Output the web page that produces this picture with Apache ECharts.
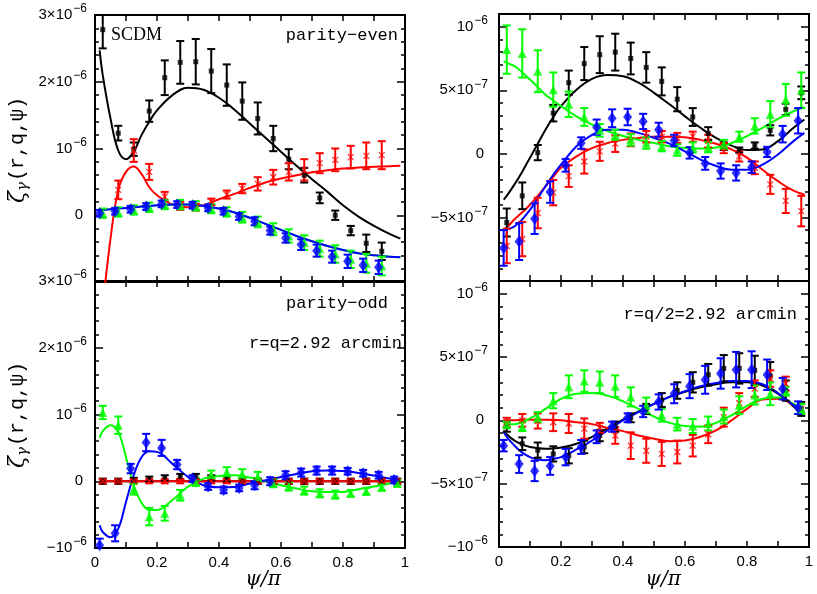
<!DOCTYPE html>
<html>
<head>
<meta charset="utf-8">
<title>zeta_gamma SCDM</title>
<script src="https://cdn.jsdelivr.net/npm/echarts@6/dist/echarts.min.js"></script>
<style>
  html, body { margin: 0; padding: 0; background: #fff; }
  #main { width: 817px; height: 594px; }
</style>
</head>
<body>
<div id="main"></div>
<script>
// psi/pi of the measured bins
var psiPts = [0.025, 0.075, 0.125, 0.175, 0.225, 0.275, 0.325, 0.375, 0.425, 0.475,
              0.525, 0.575, 0.625, 0.675, 0.725, 0.775, 0.825, 0.875, 0.925, 0.975];
// psi/pi where the model curves are read
var psiModel = [0.015, 0.025, 0.05, 0.075, 0.1, 0.125, 0.15, 0.175, 0.2, 0.25, 0.3, 0.35, 0.4,
                0.45, 0.5, 0.55, 0.6, 0.65, 0.7, 0.75, 0.8, 0.85, 0.9, 0.95, 0.985];

// tick labels, "|" splits mantissa and exponent
var leftTickValues = [-1, 0, 1, 2, 3];          // units of 1e-6
var leftTickLabels = ['−10|−6', '0', '10|−6', '2×10|−6', '3×10|−6'];
var rightTickValues = [-10, -5, 0, 5, 10];      // units of 1e-7
var rightTickLabels = ['−10|−6', '−5×10|−7', '0', '5×10|−7', '10|−6'];
var xTickValues = [0, 0.2, 0.4, 0.6, 0.8, 1];
var xTickLabels = ['0', '0.2', '0.4', '0.6', '0.8', '1'];

// ---- top left: parity-even, r=q (1e-6)
var tlBlack    = [2.78, 1.23, 0.99, 1.56, 2.06, 2.29, 2.30, 2.16, 1.95, 1.71, 1.45, 1.15, 0.84, 0.60, 0.26, 0.00, -0.23, -0.42, -0.54, null];
var tlBlackErr = [0.28, 0.11, 0.10, 0.16, 0.26, 0.32, 0.34, 0.33, 0.31, 0.28, 0.24, 0.19, 0.15, 0.11, 0.08, 0.07, 0.07, 0.13, 0.13, null];
var tlRed      = [null, 0.38, 0.97, 0.65, 0.28, 0.14, 0.12, 0.20, 0.31, 0.40, 0.47, 0.57, 0.65, 0.68, 0.78, 0.83, 0.87, 0.89, 0.90, null];
var tlRedErr   = [null, 0.14, 0.17, 0.12, 0.07, 0.06, 0.05, 0.05, 0.06, 0.07, 0.10, 0.11, 0.13, 0.16, 0.15, 0.17, 0.17, 0.20, 0.21, null];
var tlGreen    = [0.03, 0.05, 0.08, 0.12, 0.16, 0.16, 0.14, 0.10, 0.05, -0.03, -0.10, -0.21, -0.31, -0.41, -0.50, -0.58, -0.66, -0.72, -0.76, null];
var tlGreenErr = [0.07, 0.07, 0.07, 0.07, 0.07, 0.07, 0.07, 0.07, 0.07, 0.08, 0.08, 0.09, 0.10, 0.11, 0.12, 0.13, 0.13, 0.14, 0.14, null];
var tlBlue     = [0.03, 0.06, 0.09, 0.13, 0.17, 0.16, 0.15, 0.11, 0.06, -0.02, -0.09, -0.23, -0.34, -0.44, -0.53, -0.62, -0.69, -0.75, -0.78, null];
var tlBlueErr  = [0.05, 0.05, 0.05, 0.05, 0.05, 0.05, 0.05, 0.05, 0.05, 0.05, 0.06, 0.06, 0.07, 0.08, 0.09, 0.09, 0.10, 0.10, 0.10, null];
var tlBlackFit = [2.47, 2.10, 1.45, 0.97, 0.84, 0.95, 1.20, 1.40, 1.57, 1.80, 1.91, 1.88, 1.76, 1.58, 1.37, 1.16, 0.95, 0.74, 0.54, 0.35, 0.15, -0.02, -0.16, -0.28, -0.35];
var tlRedFit   = [-1.70, -1.35, -0.35, 0.38, 0.65, 0.73, 0.62, 0.42, 0.30, 0.16, 0.12, 0.15, 0.24, 0.32, 0.41, 0.49, 0.55, 0.60, 0.645, 0.675, 0.70, 0.715, 0.725, 0.735, 0.74];
var tlGreenFit = [0.08, 0.08, 0.09, 0.10, 0.11, 0.12, 0.13, 0.14, 0.15, 0.16, 0.16, 0.14, 0.10, 0.04, -0.04, -0.13, -0.22, -0.31, -0.39, -0.46, -0.52, -0.57, -0.60, -0.62, -0.63];
var tlBlueFit  = [0.08, 0.08, 0.09, 0.10, 0.11, 0.12, 0.13, 0.14, 0.15, 0.16, 0.16, 0.14, 0.10, 0.04, -0.04, -0.13, -0.22, -0.31, -0.39, -0.46, -0.52, -0.57, -0.60, -0.62, -0.63];

// ---- top right: parity-even, r=q/2 (1e-7)
var trBlack    = [-5.4, -3.3, 0.1, 3.2, 5.6, 7.1, 7.8, 8.0, 7.5, 6.8, 5.7, 4.3, 2.9, 1.6, 0.6, 0.3, 0.65, 1.85, 3.5, 4.8];
var trBlackErr = [1.1, 1.05, 0.6, 0.65, 0.95, 1.3, 1.45, 1.45, 1.25, 1.2, 1.1, 0.95, 0.7, 0.5, 0.3, 0.2, 0.25, 0.4, 0.45, 0.5];
var trRed      = [-7.25, -6.7, -4.65, -3.05, -1.75, -0.6, 0.2, 0.8, 1.1, 1.35, 1.35, 1.25, 1.35, 1.0, 0.45, -0.2, -1.1, -2.4, -3.7, -4.5];
var trRedErr   = [1.35, 1.35, 1.2, 1.0, 0.85, 0.95, 0.75, 0.65, 0.5, 0.45, 0.45, 0.4, 0.4, 0.5, 0.4, 0.4, 0.5, 0.75, 0.95, 1.2];
var trGreen    = [8.2, 7.9, 6.5, 5.05, 3.9, 2.9, 1.85, 1.5, 1.1, 0.85, 0.6, 0.3, 0.5, 0.52, 0.75, 1.35, 2.2, 3.1, 4.25, 5.0];
var trGreenErr = [1.9, 1.9, 1.65, 1.35, 1.0, 0.7, 0.5, 0.4, 0.45, 0.45, 0.4, 0.45, 0.4, 0.4, 0.35, 0.4, 0.6, 1.05, 1.25, 1.4];
var trBlue     = [-7.4, -6.9, -5.1, -3.0, -0.9, 0.85, 2.1, 2.8, 2.9, 2.55, 1.9, 1.05, 0.08, -0.75, -1.35, -1.5, -1.05, 0.15, 1.55, 2.6];
var trBlueErr  = [1.4, 1.45, 1.2, 0.85, 0.5, 0.45, 0.6, 0.7, 0.65, 0.6, 0.55, 0.45, 0.45, 0.5, 0.6, 0.6, 0.45, 0.4, 0.65, 1.0];
var trBlackFit = [-3.6, -3.3, -2.4, -1.4, -0.3, 0.8, 1.9, 2.9, 3.75, 5.05, 5.9, 6.2, 6.1, 5.6, 4.8, 3.9, 2.95, 2.05, 1.25, 0.65, 0.3, 0.35, 1.0, 2.05, 2.7];
var trRedFit   = [-5.95, -5.8, -5.15, -4.6, -4.0, -3.3, -2.55, -1.8, -1.1, -0.2, 0.45, 0.85, 1.1, 1.25, 1.35, 1.35, 1.3, 1.1, 0.8, 0.35, -0.3, -1.25, -2.15, -2.9, -3.2];
var trGreenFit = [7.3, 7.15, 6.9, 6.4, 5.85, 5.25, 4.65, 4.2, 3.75, 2.95, 2.3, 1.8, 1.4, 1.1, 0.85, 0.6, 0.47, 0.42, 0.5, 0.85, 1.4, 2.05, 2.75, 3.35, 3.7];
var trBlueFit  = [-6.0, -5.95, -5.7, -5.15, -4.4, -3.5, -2.55, -1.65, -0.85, 0.6, 1.5, 1.9, 1.9, 1.65, 1.25, 0.8, 0.2, -0.45, -0.95, -1.25, -1.25, -0.85, -0.05, 1.0, 1.65];

// ---- bottom left: parity-odd, r=q (1e-6)
var blBlack    = [0, 0, 0.01, 0.03, 0.05, 0.07, 0.07, 0.05, 0.03, 0.01, 0, 0, 0, 0, 0, 0, 0, 0, 0, 0];
var blBlackErr = [0.04, 0.04, 0.04, 0.04, 0.04, 0.04, 0.04, 0.04, 0.04, 0.04, 0.04, 0.04, 0.04, 0.04, 0.04, 0.04, 0.04, 0.04, 0.04, 0.04];
var blRed      = [0, 0, 0, 0, 0, 0, 0, 0, 0, 0, 0, 0, 0, 0, 0, 0, 0, 0, 0, 0];
var blRedErr   = [0.03, 0.03, 0.03, 0.03, 0.03, 0.03, 0.03, 0.03, 0.03, 0.03, 0.03, 0.03, 0.03, 0.03, 0.03, 0.03, 0.03, 0.03, 0.03, 0.03];
var blGreen    = [1.03, 0.84, -0.12, -0.53, -0.48, -0.21, -0.01, 0.10, 0.14, 0.11, 0.07, -0.03, -0.08, -0.14, -0.18, -0.20, -0.18, -0.15, -0.09, -0.03];
var blGreenErr = [0.10, 0.13, 0.08, 0.13, 0.11, 0.08, 0.06, 0.06, 0.07, 0.07, 0.07, 0.06, 0.06, 0.06, 0.06, 0.06, 0.05, 0.05, 0.05, 0.05];
var blBlue     = [-0.96, -0.78, 0.19, 0.58, 0.50, 0.25, 0.04, -0.08, -0.13, -0.10, -0.06, 0.00, 0.09, 0.13, 0.16, 0.16, 0.15, 0.12, 0.09, 0.02];
var blBlueErr  = [0.10, 0.12, 0.07, 0.13, 0.12, 0.07, 0.05, 0.05, 0.05, 0.05, 0.06, 0.06, 0.06, 0.06, 0.06, 0.06, 0.05, 0.05, 0.05, 0.05];
var blBlackFit = [0, 0, 0, 0, 0, 0, 0, 0, 0, 0, 0, 0, 0, 0, 0, 0, 0, 0, 0, 0, 0, 0, 0, 0, 0];
var blRedFit   = [0, 0, 0, 0, 0, 0, 0, 0, 0, 0, 0, 0, 0, 0, 0, 0, 0, 0, 0, 0, 0, 0, 0, 0, 0];
var blGreenFit = [0.65, 0.75, 0.84, 0.74, 0.36, -0.06, -0.32, -0.43, -0.43, -0.28, -0.08, 0.04, 0.08, 0.09, 0.055, 0.0, -0.06, -0.11, -0.15, -0.16, -0.16, -0.12, -0.08, -0.035, -0.01];
var blBlueFit  = [-0.66, -0.76, -0.84, -0.71, -0.31, 0.09, 0.36, 0.45, 0.44, 0.26, 0.065, -0.06, -0.09, -0.085, -0.035, 0.015, 0.065, 0.11, 0.15, 0.16, 0.155, 0.125, 0.085, 0.04, 0.015];

// ---- bottom right: parity-odd, r=q/2 (1e-7)
var brBlack    = [-0.5, -1.85, -2.35, -2.65, -2.8, -2.1, -1.2, -0.5, 0.2, 0.9, 1.6, 2.35, 3.0, 3.6, 4.1, 4.1, 3.95, 3.5, 2.35, 0.9];
var brBlackErr = [0.4, 0.5, 0.6, 0.6, 0.6, 0.5, 0.45, 0.4, 0.35, 0.4, 0.55, 0.65, 0.8, 0.85, 1.05, 1.2, 1.15, 1.1, 0.8, 0.55];
var brRed      = [-0.15, 0.0, -0.05, -0.15, -0.25, -0.65, -0.6, -1.2, -2.0, -2.4, -2.65, -2.5, -2.0, -1.1, 0.25, 1.35, 2.5, 3.3, 2.9, 0.9];
var brRedErr   = [0.35, 0.5, 0.6, 0.7, 0.75, 0.8, 0.4, 0.65, 1.05, 0.95, 0.95, 0.9, 0.85, 0.7, 0.75, 0.8, 0.65, 0.65, 0.55, 0.4];
var brGreen    = [-0.35, -0.5, 0.25, 1.55, 2.65, 3.1, 3.0, 2.7, 1.85, 1.2, 0.4, -0.3, -0.45, -0.25, 0.3, 1.2, 2.0, 2.1, 2.3, 0.9];
var brGreenErr = [0.25, 0.35, 0.4, 0.6, 0.9, 0.85, 0.85, 0.85, 0.75, 0.6, 0.5, 0.5, 0.55, 0.55, 0.55, 0.7, 0.75, 0.9, 0.35, 0.4];
var brBlue     = [-2.0, -3.45, -4.0, -3.6, -2.9, -2.1, -1.3, -0.5, 0.2, 0.7, 1.45, 2.1, 2.7, 3.2, 3.7, 4.0, 4.0, 3.6, 2.5, 1.0];
var brBlueErr  = [0.45, 0.7, 0.8, 0.7, 0.65, 0.55, 0.5, 0.4, 0.35, 0.45, 0.6, 0.75, 0.95, 1.1, 1.2, 1.4, 1.45, 1.2, 0.85, 0.5];
var brBlackFit = [-0.8, -1.1, -1.6, -1.9, -2.1, -2.2, -2.25, -2.22, -2.15, -1.85, -1.3, -0.65, 0.05, 0.7, 1.3, 1.85, 2.25, 2.6, 2.85, 3.0, 3.0, 2.75, 2.1, 1.1, 0.4];
var brRedFit   = [-0.05, 0.0, 0.0, 0.05, 0.05, 0.05, 0.05, 0.03, 0.0, -0.15, -0.3, -0.6, -0.85, -1.2, -1.45, -1.65, -1.6, -1.3, -0.8, 0.0, 0.9, 1.65, 1.7, 1.2, 0.5];
var brGreenFit = [-0.25, -0.3, -0.3, -0.15, 0.15, 0.5, 0.9, 1.3, 1.7, 2.1, 2.15, 1.95, 1.5, 0.9, 0.3, -0.2, -0.45, -0.5, -0.2, 0.4, 1.15, 1.7, 1.8, 1.3, 0.65];
var brBlueFit  = [-0.9, -1.3, -2.0, -2.55, -2.9, -3.1, -3.15, -3.05, -2.9, -2.3, -1.6, -0.8, 0.0, 0.65, 1.3, 1.85, 2.3, 2.7, 2.95, 3.1, 3.1, 2.85, 2.15, 1.2, 0.5];

var COLORS = {black: '#000000', red: '#ff0000', green: '#00ff00', blue: '#0000ff'};
var ORDER = ['black', 'red', 'green', 'blue'];
var BLUE_SHIFT = -0.01;   // blue points sit a little left of the bin centre

var panels = [
  { grid: {left: 95, top: 15, width: 310, height: 267}, unit: 'left', hide: [-1], xLabels: false,
    pts: {black: tlBlack, red: tlRed, green: tlGreen, blue: tlBlue},
    err: {black: tlBlackErr, red: tlRedErr, green: tlGreenErr, blue: tlBlueErr},
    fit: {black: tlBlackFit, red: tlRedFit, green: tlGreenFit, blue: tlBlueFit} },
  { grid: {left: 499, top: 14, width: 310, height: 267}, unit: 'right', hide: [-10], xLabels: false,
    pts: {black: trBlack, red: trRed, green: trGreen, blue: trBlue},
    err: {black: trBlackErr, red: trRedErr, green: trGreenErr, blue: trBlueErr},
    fit: {black: trBlackFit, red: trRedFit, green: trGreenFit, blue: trBlueFit} },
  { grid: {left: 95, top: 281, width: 310, height: 267}, unit: 'left', hide: [], xLabels: true,
    pts: {black: blBlack, red: blRed, green: blGreen, blue: blBlue},
    err: {black: blBlackErr, red: blRedErr, green: blGreenErr, blue: blBlueErr},
    fit: {black: blBlackFit, red: blRedFit, green: blGreenFit, blue: blBlueFit} },
  { grid: {left: 499, top: 281, width: 310, height: 266}, unit: 'right', hide: [], xLabels: true,
    pts: {black: brBlack, red: brRed, green: brGreen, blue: brBlue},
    err: {black: brBlackErr, red: brRedErr, green: brGreenErr, blue: brBlueErr},
    fit: {black: brBlackFit, red: brRedFit, green: brGreenFit, blue: brBlueFit} }
];

var MARKERS = {
  black: {symbol: 'rect', size: 5, style: {color: COLORS.black}},
  red: {symbol: 'path://M0,0L10,10M10,0L0,10', size: 6,
        style: {color: 'rgba(0,0,0,0)', borderColor: COLORS.red, borderWidth: 1.2}},
  green: {symbol: 'triangle', size: 9, style: {color: COLORS.green}},
  blue: {symbol: 'diamond', size: [9, 12], style: {color: COLORS.blue}}
};

function tick(len) {
  return {show: true, inside: true, length: len, lineStyle: {color: '#000', width: 1.5}};
}

function lookup(values, labels, hide, rich) {
  return function (v) {
    for (var i = 0; i < values.length; i++) {
      if (Math.abs(v - values[i]) < 1e-6) {
        if (hide.indexOf(values[i]) >= 0) return '';
        if (!rich) return labels[i];
        var parts = labels[i].split('|');
        return parts.length > 1 ? '{m|' + parts[0] + '}{e|' + parts[1] + '}' : '{z|' + parts[0] + '}';
      }
    }
    return '';
  };
}

var labelRich = {
  m: {fontSize: 15, fontFamily: 'Liberation Sans', color: '#000'},
  z: {fontSize: 15, fontFamily: 'Liberation Sans', color: '#000', padding: [0, 4, 0, 0]},
  e: {fontSize: 12, fontFamily: 'Liberation Sans', color: '#000', padding: [0, 0, 12, 1]}
};

var grids = [], xAxes = [], yAxes = [], series = [];

panels.forEach(function (p, gi) {
  grids.push(Object.assign({show: true, borderColor: '#000', borderWidth: 2, backgroundColor: 'transparent'}, p.grid));

  var xb = {gridIndex: gi, type: 'value', min: 0, max: 1, interval: 0.1,
            axisLine: {show: false, onZero: false}, splitLine: {show: false}, axisTick: tick(6)};
  xAxes.push(Object.assign({}, xb, {position: 'bottom', axisLabel: {
    show: p.xLabels, margin: 7, color: '#000', fontSize: 15, fontFamily: 'Liberation Sans',
    formatter: lookup(xTickValues, xTickLabels, [], false)}}));
  xAxes.push(Object.assign({}, xb, {position: 'top', axisLabel: {show: false}}));

  var left = p.unit === 'left';
  var r = left ? {min: -1, max: 3, major: 1, minor: 0.2} : {min: -10, max: 11, major: 5, minor: 1};
  var yb = {gridIndex: gi, type: 'value', min: r.min, max: r.max,
            axisLine: {show: false, onZero: false}, splitLine: {show: false}};
  yAxes.push(Object.assign({}, yb, {position: 'left', interval: r.major, axisTick: tick(8), axisLabel: {
    margin: left ? 8 : 11, rich: labelRich,
    formatter: left ? lookup(leftTickValues, leftTickLabels, p.hide, true)
                    : lookup(rightTickValues, rightTickLabels, p.hide, true)}}));
  yAxes.push(Object.assign({}, yb, {position: 'left', interval: r.minor, axisTick: tick(4), axisLabel: {show: false}}));
  yAxes.push(Object.assign({}, yb, {position: 'right', interval: r.major, axisTick: tick(8), axisLabel: {show: false}}));
  yAxes.push(Object.assign({}, yb, {position: 'right', interval: r.minor, axisTick: tick(4), axisLabel: {show: false}}));

  var xi = gi * 2, yi = gi * 4;
  ORDER.forEach(function (c) {
    series.push({
      type: 'line', xAxisIndex: xi, yAxisIndex: yi, smooth: 0.4, showSymbol: false, clip: true, z: 2,
      lineStyle: {color: COLORS[c], width: 2},
      data: psiModel.map(function (x, i) { return [x, p.fit[c][i]]; })
    });
  });
  ORDER.forEach(function (c) {
    var dx = c === 'blue' ? BLUE_SHIFT : 0;
    var rows = psiPts.map(function (x, i) { return [x + dx, p.pts[c][i], p.err[c][i]]; })
                     .filter(function (row) { return row[1] !== null; });
    series.push({
      type: 'custom', xAxisIndex: xi, yAxisIndex: yi, clip: true, z: 3,
      encode: {x: 0, y: 1}, data: rows, renderItem: errorBar(COLORS[c])
    });
    series.push({
      type: 'scatter', xAxisIndex: xi, yAxisIndex: yi, clip: true, z: 4,
      symbol: MARKERS[c].symbol, symbolSize: MARKERS[c].size, itemStyle: MARKERS[c].style,
      data: rows.map(function (row) { return [row[0], row[1]]; })
    });
  });
});

function errorBar(color) {
  return function (params, api) {
    var x = api.value(0), y = api.value(1), e = api.value(2);
    var lo = api.coord([x, y - e]);
    var hi = api.coord([x, y + e]);
    var cap = 4;
    var st = {stroke: color, lineWidth: 2};
    return {type: 'group', children: [
      {type: 'line', shape: {x1: lo[0], y1: lo[1], x2: hi[0], y2: hi[1]}, style: st},
      {type: 'line', shape: {x1: lo[0] - cap, y1: lo[1], x2: lo[0] + cap, y2: lo[1]}, style: st},
      {type: 'line', shape: {x1: hi[0] - cap, y1: hi[1], x2: hi[0] + cap, y2: hi[1]}, style: st}
    ]};
  };
}

function label(x, y, text, font, align) {
  return {type: 'text', x: x, y: y, z: 10, style: {
    text: text, font: font, fill: '#000', textAlign: align, textVerticalAlign: 'middle'}};
}

function yName(y) {
  return {type: 'text', x: 18, y: y, z: 10, rotation: Math.PI / 2, style: {
    text: '{z|ζ}{g|γ}{p|(r,q,ψ)}', fill: '#000', textAlign: 'center', textVerticalAlign: 'middle',
    rich: {
      z: {fontSize: 22, fontFamily: 'DejaVu Serif', fontStyle: 'italic'},
      g: {fontSize: 15, fontFamily: 'DejaVu Serif', fontStyle: 'italic', padding: [10, 1, 0, 0]},
      p: {fontSize: 20, fontFamily: 'Liberation Mono'}
    }}};
}

var chart = echarts.init(document.getElementById('main'), null, {renderer: 'canvas'});
chart.setOption({
  animation: false,
  backgroundColor: '#fff',
  grid: grids,
  xAxis: xAxes,
  yAxis: yAxes,
  series: series,
  graphic: [
    label(111, 35, 'SCDM', '18px "Liberation Serif"', 'left'),
    label(398, 35, 'parity−even', '17px "Liberation Mono"', 'right'),
    label(388, 303, 'parity−odd', '17px "Liberation Mono"', 'right'),
    label(402, 343, 'r=q=2.92 arcmin', '17px "Liberation Mono"', 'right'),
    label(797, 314, 'r=q/2=2.92 arcmin', '17px "Liberation Mono"', 'right'),
    label(263, 580, 'ψ/π', 'italic 20px "DejaVu Serif"', 'center'),
    label(663, 580, 'ψ/π', 'italic 20px "DejaVu Serif"', 'center'),
    yName(150),
    yName(415)
  ]
});
</script>
</body>
</html>
